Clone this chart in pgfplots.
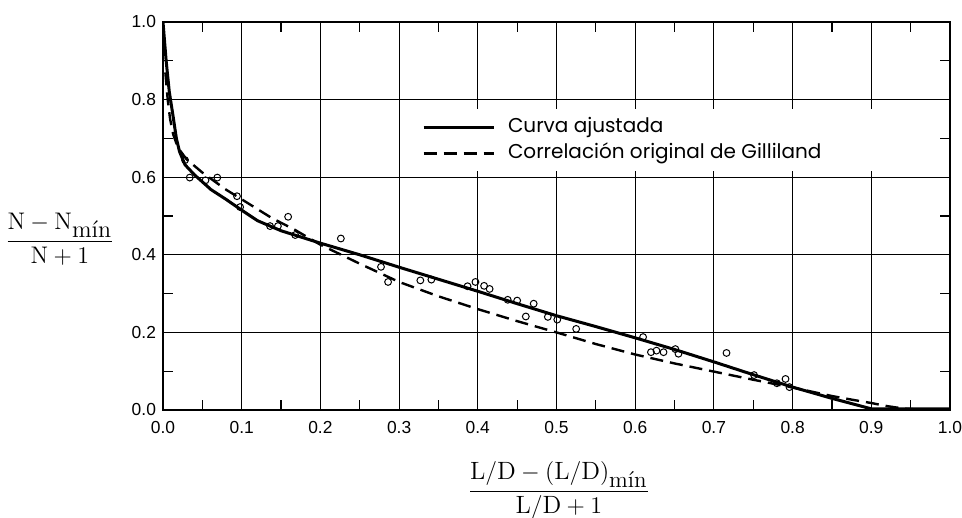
\documentclass[border=0pt]{standalone}
\usepackage{amsmath}
\usepackage{fontspec}
\usepackage{pgfplots}
\pgfplotsset{compat=1.18}
\newfontfamily\ticksf{Liberation Sans}
\newfontfamily\legfont{Poppins}

\pgfplotstableread{
x y
0.028 0.644
0.034 0.599
0.054 0.592
0.069 0.599
0.094 0.551
0.098 0.523
0.136 0.474
0.146 0.474
0.159 0.498
0.168 0.451
0.226 0.442
0.277 0.369
0.286 0.330
0.327 0.334
0.341 0.336
0.387 0.319
0.397 0.330
0.408 0.320
0.415 0.312
0.438 0.284
0.450 0.282
0.471 0.274
0.461 0.241
0.489 0.240
0.501 0.233
0.525 0.209
0.610 0.188
0.620 0.149
0.627 0.153
0.636 0.149
0.651 0.157
0.655 0.145
0.716 0.147
0.751 0.090
0.780 0.069
0.791 0.080
0.796 0.059
}\datapts

\pgfplotstableread{
x y
0.000 1.000
0.004 0.900
0.008 0.820
0.0126 0.760
0.017 0.700
0.021 0.666
0.028 0.632
0.040 0.606
0.050 0.588
0.061 0.568
0.080 0.543
0.100 0.515
0.120 0.488
0.150 0.462
0.200 0.430
0.250 0.400
0.300 0.368
0.350 0.337
0.400 0.306
0.450 0.274
0.500 0.243
0.550 0.215
0.600 0.186
0.650 0.156
0.700 0.124
0.750 0.091
0.800 0.059
0.850 0.030
0.900 0.003
1.000 0.003
}\fitted

\pgfplotstableread{
x y
0.003 0.870
0.006 0.800
0.009 0.750
0.013 0.710
0.019 0.676
0.030 0.646
0.050 0.612
0.080 0.568
0.100 0.543
0.138 0.495
0.167 0.465
0.200 0.426
0.250 0.377
0.300 0.330
0.350 0.293
0.400 0.260
0.450 0.229
0.500 0.200
0.550 0.170
0.600 0.143
0.650 0.120
0.700 0.099
0.750 0.078
0.800 0.058
0.850 0.036
0.877 0.026
0.900 0.018
0.920 0.010
0.940 0.004
0.960 0.001
1.000 0.000
}\gilliland

\begin{document}
\begin{tikzpicture}
\begin{axis}[
  scale only axis,
  width=393.5pt, height=194pt,
  xmin=0, xmax=1, ymin=0, ymax=1,
  xtick={0,0.1,...,1.0},
  ytick={0,0.2,...,1.0},
  minor x tick num=1,
  minor y tick num=1,
  tick align=inside,
  tick pos=both,
  major tick length=0pt,
  minor tick length=5pt,
  minor tick style={black, line width=0.6pt},
  grid=major,
  major grid style={black, line width=0.55pt},
  axis line style={black, line width=1.1pt},
  /pgf/number format/assume math mode=true,
  xticklabel style={font=\ticksf\fontsize{8.7}{10}\selectfont, yshift=-2pt, /pgf/number format/fixed, /pgf/number format/fixed zerofill, /pgf/number format/precision=1},
  yticklabel style={font=\ticksf\fontsize{8.7}{10}\selectfont, /pgf/number format/fixed, /pgf/number format/fixed zerofill, /pgf/number format/precision=1},
  scaled ticks=false,
  every axis y label/.style={at={(axis description cs:-0.131,0.44)}, anchor=center, font=\fontsize{12}{14}\selectfont},
  every axis x label/.style={at={(axis description cs:0.503,-0.208)}, anchor=center, font=\fontsize{12.5}{15}\selectfont},
  ylabel={$\dfrac{\mathrm{N}-\mathrm{N}_{\mbox{\fontsize{12}{14}\selectfont mín}}}{\mathrm{N}+1}$},
  xlabel={$\dfrac{\mathrm{L}/\mathrm{D}-(\mathrm{L}/\mathrm{D})_{\mbox{\fontsize{11.5}{13}\selectfont mín}}}{\mathrm{L}/\mathrm{D}+1}$},
  legend image code/.code={\draw[#1] (0pt,0pt) -- (35pt,0pt);},
  legend cell align=left,
  legend style={at={(axis cs:0.3286,0.695)}, anchor=west, draw=none, fill=none,
    inner sep=0pt, row sep=4pt, column sep=6.5pt,
    font=\legfont\fontsize{10}{12}\selectfont,
    nodes={inner sep=0pt, text height=7pt, text depth=2pt}},
]
\coordinate (SW) at (rel axis cs:0,0);
\coordinate (NE) at (rel axis cs:1,1);
\fill[white] (axis cs:0.316,0.615) rectangle (axis cs:0.979,0.775);
\addplot[black, line width=1.5pt, line join=round] table[x=x,y=y] {\fitted};
\addlegendentry{Curva ajustada}
\addplot[black, line width=1.2pt, dash pattern=on 6.5pt off 3.5pt] table[x=x,y=y] {\gilliland};
\addlegendentry{Correlación original de Gilliland}
\addplot[only marks, mark=o, mark size=1.7pt, mark options={black, fill=white, line width=0.5pt}, forget plot] table[x=x,y=y] {\datapts};
\end{axis}
\pgfresetboundingbox
\path ([shift={(-81.5pt,-54pt)}]SW) rectangle ([shift={(6pt,11pt)}]NE);
\end{tikzpicture}
\end{document}
